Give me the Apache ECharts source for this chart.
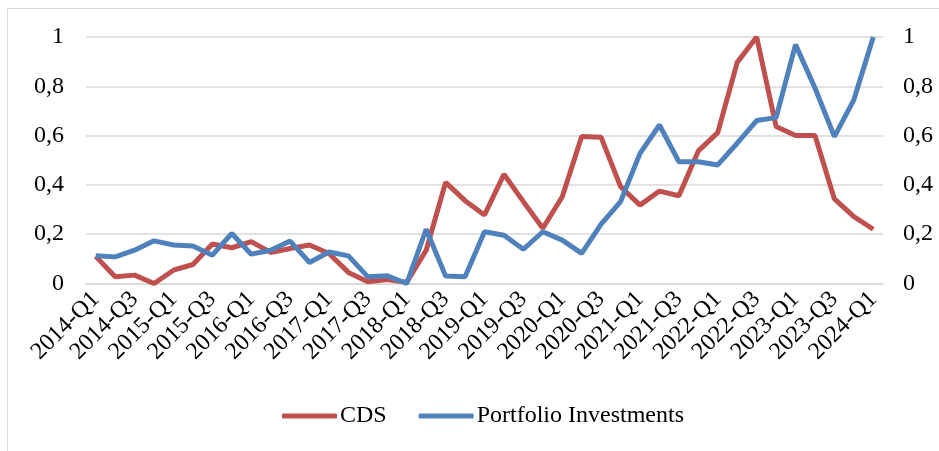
<!DOCTYPE html>
<html>
<head>
<meta charset="utf-8">
<title>CDS vs Portfolio Investments</title>
<script src="https://cdn.jsdelivr.net/npm/echarts@6/dist/echarts.min.js"></script>
<style>
  html, body { margin: 0; padding: 0; background: #fff; }
  #wrap { position: relative; width: 939px; height: 451px; }
  #frame { position: absolute; left: 7px; top: 8px; right: -2px; bottom: -2px;
           border-top: 1px solid #d9d9d9; border-left: 1px solid #d9d9d9; pointer-events: none; }
  #chart { position: absolute; left: 0; top: 0; width: 939px; height: 451px; }
</style>
</head>
<body>
<div id="wrap">
  <div id="frame"></div>
  <div id="chart"></div>
</div>
<script type="text/javascript">
// quarters 2014-Q1 .. 2024-Q1
var quarters = [];
for (var y = 2014; y <= 2024; y++) {
    for (var q = 1; q <= 4; q++) {
        if (y === 2024 && q > 1) break;
        quarters.push(y + '-Q' + q);
    }
}

// normalised values
var cds = [0.11, 0.027, 0.034, 0.0, 0.054, 0.077, 0.16, 0.145, 0.17, 0.126,
           0.142, 0.156, 0.122, 0.045, 0.007, 0.016, 0.005, 0.135, 0.41, 0.336,
           0.278, 0.443, 0.332, 0.224, 0.352, 0.596, 0.593, 0.393, 0.318, 0.375,
           0.356, 0.538, 0.612, 0.897, 1.0, 0.637, 0.60, 0.60, 0.343, 0.271, 0.22];

var portfolio = [0.113, 0.108, 0.135, 0.173, 0.156, 0.152, 0.115, 0.203, 0.119, 0.135,
                 0.172, 0.085, 0.128, 0.112, 0.027, 0.031, 0.0, 0.22, 0.03, 0.027,
                 0.21, 0.196, 0.139, 0.21, 0.176, 0.122, 0.241, 0.332, 0.528, 0.643,
                 0.494, 0.494, 0.481, 0.569, 0.661, 0.673, 0.969, 0.793, 0.596, 0.745, 1.0];

var seriesNames = ['CDS', 'Portfolio Investments'];
var seriesColors = ['#C0504D', '#4F81BD'];

var font = "'Liberation Serif', 'Times New Roman', serif";

function commaFmt(v) {
    return Number.isInteger(v) ? String(v) : v.toFixed(1).replace('.', ',');
}

var myChart = echarts.init(document.getElementById('chart'));

var option = {
    animation: false,
    backgroundColor: 'transparent',
    textStyle: { fontFamily: font, color: '#000' },
    grid: { left: 86, right: 56, top: 37, bottom: 167.5 },
    legend: {
        top: 399,
        left: 277,
        icon: 'roundRect',
        itemWidth: 55,
        itemHeight: 5,
        itemGap: 32,
        textStyle: { fontFamily: font, fontSize: 24, color: '#000', padding: [0, 0, 0, -2] },
        data: seriesNames
    },
    xAxis: {
        type: 'category',
        data: quarters,
        boundaryGap: true,
        axisLine: { show: true, lineStyle: { color: '#d9d9d9', width: 1.5 } },
        axisTick: { show: false },
        axisLabel: {
            interval: 1,
            rotate: 45,
            margin: 12,
            fontFamily: font,
            fontSize: 24,
            color: '#000'
        }
    },
    yAxis: [{
        type: 'value',
        min: 0, max: 1, interval: 0.2,
        axisLine: { show: false },
        axisTick: { show: false },
        splitLine: { lineStyle: { color: '#d9d9d9', width: 1.5 } },
        axisLabel: { margin: 22, fontFamily: font, fontSize: 24, color: '#000', formatter: commaFmt }
    }, {
        type: 'value',
        min: 0, max: 1, interval: 0.2,
        position: 'right',
        axisLine: { show: false },
        axisTick: { show: false },
        splitLine: { show: false },
        axisLabel: { margin: 20, fontFamily: font, fontSize: 24, color: '#000', formatter: commaFmt }
    }],
    series: [{
        name: seriesNames[0],
        type: 'line',
        yAxisIndex: 0,
        data: cds,
        symbol: 'none',
        color: seriesColors[0],
        lineStyle: { width: 5, color: seriesColors[0] }
    }, {
        name: seriesNames[1],
        type: 'line',
        yAxisIndex: 1,
        data: portfolio,
        symbol: 'none',
        color: seriesColors[1],
        lineStyle: { width: 5, color: seriesColors[1] }
    }]
};
myChart.setOption(option);
</script>
</body>
</html>
